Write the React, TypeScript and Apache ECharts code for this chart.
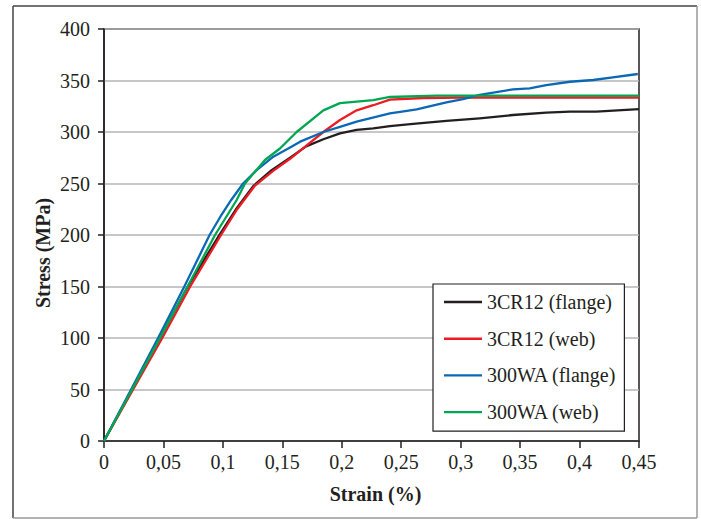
import React, { useEffect, useRef } from "react";
import * as echarts from "echarts";

const seriesNames = ["3CR12 (flange)", "3CR12 (web)", "300WA (flange)", "300WA (web)"];
const seriesColors = ["#231f20", "#ed1c24", "#0a68b4", "#00a651"];

const cr12FlangeStrain = [0, 0.0235, 0.047, 0.0705, 0.097, 0.111, 0.126, 0.141, 0.1565, 0.17, 0.1845, 0.1985, 0.2125, 0.2265, 0.2405, 0.26, 0.288, 0.316, 0.344, 0.372, 0.392, 0.414, 0.45];
const cr12FlangeStress = [0, 50, 100, 150, 200, 225, 248, 263, 275, 286, 293, 298.7, 302, 303.6, 305.8, 307.8, 310.7, 313.3, 316.5, 318.8, 319.7, 319.7, 322.3];

const cr12WebStrain = [0, 0.0245, 0.049, 0.0725, 0.0984, 0.112, 0.127, 0.142, 0.1565, 0.1705, 0.1845, 0.1985, 0.2125, 0.2265, 0.2405, 0.269, 0.3, 0.45];
const cr12WebStress = [0, 50, 100, 150, 200, 225, 248, 262, 274, 287, 300, 311.7, 321, 326, 331.5, 333, 333.5, 333.5];

const wa300FlangeStrain = [0, 0.0228, 0.0455, 0.0676, 0.0888, 0.098, 0.107, 0.117, 0.1284, 0.1424, 0.1565, 0.165, 0.1845, 0.1985, 0.2125, 0.2405, 0.252, 0.263, 0.288, 0.302, 0.316, 0.344, 0.358, 0.372, 0.392, 0.4115, 0.428, 0.449];
const wa300FlangeStress = [0, 50, 100, 150, 200, 218, 234, 250, 263, 276, 285, 290.6, 300, 305, 310, 318, 320, 322, 328.8, 332, 336, 341.4, 342.4, 345.6, 348.8, 350.5, 353, 356.3];

const wa300WebStrain = [0, 0.0236, 0.0471, 0.0703, 0.0934, 0.1116, 0.1186, 0.1354, 0.148, 0.162, 0.1845, 0.1985, 0.2125, 0.2265, 0.2405, 0.28, 0.45];
const wa300WebStress = [0, 50, 100, 150, 200, 234, 250, 272.8, 284, 300, 321, 328, 329.5, 331, 334, 335.3, 335.3];

const strainSets = [cr12FlangeStrain, cr12WebStrain, wa300FlangeStrain, wa300WebStrain];
const stressSets = [cr12FlangeStress, cr12WebStress, wa300FlangeStress, wa300WebStress];

const xTitle = "Strain (%)";
const yTitle = "Stress (MPa)";

const FONT = '"Liberation Serif", "DejaVu Serif", serif';
const INK = "#231f20";

export default function App() {
  const ref = useRef<HTMLDivElement>(null);
  useEffect(() => {
    document.body.style.margin = "0";
    const chart = echarts.init(ref.current as HTMLDivElement, null, { renderer: "svg" });
    const series = seriesNames.map((name, i) => ({
      name,
      type: "line",
      symbol: "none",
      showSymbol: false,
      color: seriesColors[i],
      lineStyle: { color: seriesColors[i], width: 2.3, join: "round" },
      data: strainSets[i].map((x, j) => [x, stressSets[i][j]]),
    }));
    chart.setOption({
      animation: false,
      backgroundColor: "#ffffff",
      textStyle: { fontFamily: FONT },
      grid: {
        left: 104,
        right: 62,
        top: 29,
        bottom: 78,
        show: true,
        borderColor: INK,
        borderWidth: 1.5,
        backgroundColor: "transparent",
      },
      xAxis: {
        type: "value",
        min: 0,
        max: 0.45,
        interval: 0.05,
        axisLine: { show: true, onZero: false, lineStyle: { color: INK, width: 1.5 } },
        axisTick: { show: true, length: 7, lineStyle: { color: INK, width: 1.5 } },
        splitLine: { show: false },
        axisLabel: {
          fontSize: 20,
          color: INK,
          fontFamily: FONT,
          margin: 11,
          formatter: (v: number) => String(parseFloat(v.toFixed(2))).replace(".", ","),
        },
      },
      yAxis: {
        type: "value",
        min: 0,
        max: 400,
        interval: 50,
        axisLine: { show: true, lineStyle: { color: INK, width: 1.5 } },
        axisTick: { show: true, length: 6, lineStyle: { color: INK, width: 1.5 } },
        splitLine: { show: true, lineStyle: { color: "#b5b5b5", width: 1.5 } },
        axisLabel: { fontSize: 20, color: INK, fontFamily: FONT, margin: 14 },
      },
      legend: {
        orient: "vertical",
        left: 433,
        top: 284,
        padding: [8, 8, 9, 11],
        itemGap: 16.7,
        itemWidth: 38,
        itemHeight: 20,
        icon: "path://M0,8.8 L38,8.8 L38,11.2 L0,11.2 Z",
        borderColor: INK,
        borderWidth: 1.2,
        borderRadius: 0,
        backgroundColor: "#ffffff",
        textStyle: { fontSize: 20, color: INK, fontFamily: FONT, lineHeight: 20 },
        data: seriesNames,
      },
      graphic: [
        { type: "line", shape: { x1: 13, y1: 518, x2: 13, y2: 6 }, style: { stroke: "#444", lineWidth: 1.5 } },
        { type: "line", shape: { x1: 13, y1: 6, x2: 697, y2: 6 }, style: { stroke: "#444", lineWidth: 1.5 } },
        { type: "line", shape: { x1: 697, y1: 6, x2: 697, y2: 518 }, style: { stroke: "#999", lineWidth: 1.5 } },
        { type: "line", shape: { x1: 13, y1: 518, x2: 697, y2: 518 }, style: { stroke: "#999", lineWidth: 1.5 } },
        {
          type: "text",
          x: 375.5,
          y: 494,
          style: { text: xTitle, font: `bold 20px ${FONT}`, fill: INK, textAlign: "center", textVerticalAlign: "middle" },
        },
        {
          type: "text",
          x: 43,
          y: 253,
          rotation: Math.PI / 2,
          style: { text: yTitle, font: `bold 20px ${FONT}`, fill: INK, textAlign: "center", textVerticalAlign: "middle" },
        },
      ],
      series,
    });
    return () => chart.dispose();
  }, []);
  return <div ref={ref} style={{ width: 701, height: 519 }} />;
}
